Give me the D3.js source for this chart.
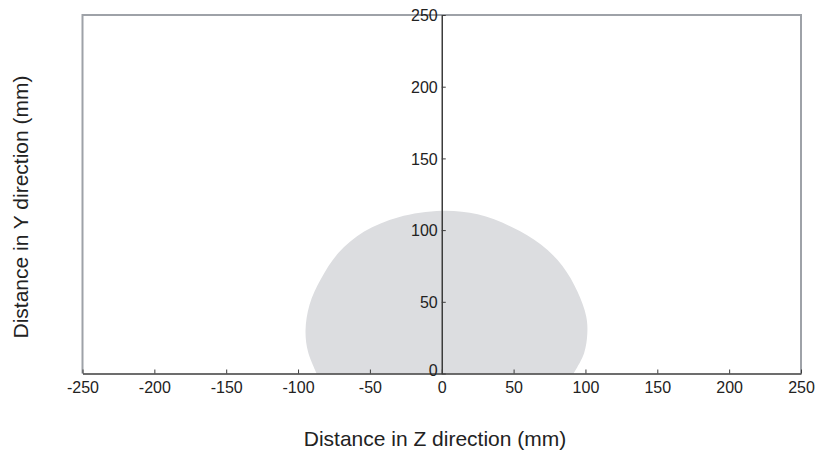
<!DOCTYPE html>
<html><head><meta charset="utf-8">
<script src="https://cdn.jsdelivr.net/npm/d3@7"></script>
<style>body{margin:0;background:#fff}svg{display:block}text{font-family:"Liberation Sans",Arial,sans-serif;fill:#222}</style>
</head><body><svg id="c" width="816" height="456"></svg>
<script>
const zTicks = [-250,-200,-150,-100,-50,0,50,100,150,200,250];
const yTicks = [0,50,100,150,200,250];
const regionZ = [-87,-93,-94.8,-92,-84,-72,-54,-30,0,25,49,69,84,94.5,100.5,101.3,99,91.7];
const regionY = [0,15,30,48,66,84,99,109,113.5,111,102,90,75,57,40,28,14,0];

const svg = d3.select("#c");
const x = d3.scaleLinear().domain([-250,250]).range([82.5,801]);
const y = d3.scaleLinear().domain([0,250]).range([373.5,15]);
const fmt = d => String(d);

const pts = regionZ.map((z,i)=>[z,regionY[i]]);
const line = d3.line().x(d=>x(d[0])).y(d=>y(d[1])).curve(d3.curveCatmullRom.alpha(0.5));
svg.append("path").attr("d", line(pts)+"Z").attr("fill","#dcdde0");

// frame
svg.append("path")
  .attr("d",`M${x(-250)},${y(0)}V${y(250)}H${x(250)}V${y(0)}`)
  .attr("fill","none").attr("stroke","#9ea2a8").attr("stroke-width",2);

// x axis
const gx = svg.append("g").attr("transform",`translate(0,${y(0)})`)
  .call(d3.axisBottom(x).tickValues(zTicks).tickFormat(fmt).tickSizeInner(-4).tickSizeOuter(0).tickPadding(8));
gx.select(".domain").attr("stroke","#3c3c3c").attr("stroke-width",1.5);
gx.selectAll(".tick line").attr("stroke","#3c3c3c");
gx.selectAll("text").attr("font-size",16).attr("fill","#222").attr("font-family","Liberation Sans, Arial, sans-serif");

// y axis
const gy = svg.append("g").attr("transform",`translate(${x(0)},0)`)
  .call(d3.axisLeft(y).tickValues(yTicks).tickFormat(fmt).tickSizeInner(-4).tickSizeOuter(0).tickPadding(4));
gy.select(".domain").attr("stroke","#3c3c3c").attr("stroke-width",1.5);
gy.selectAll(".tick line").attr("stroke","#3c3c3c");
gy.selectAll("text").attr("font-size",16).attr("fill","#222").attr("dy","0.35em").attr("font-family","Liberation Sans, Arial, sans-serif");
gy.selectAll(".tick").filter(d=>d===0).select("text").attr("dy","0.1em");

svg.append("text").attr("x",435).attr("y",446).attr("text-anchor","middle").attr("font-size",21).text("Distance in Z direction (mm)");
svg.append("text").attr("transform","translate(28,207) rotate(-90)").attr("text-anchor","middle").attr("font-size",21).text("Distance in Y direction (mm)");
</script></body></html>
